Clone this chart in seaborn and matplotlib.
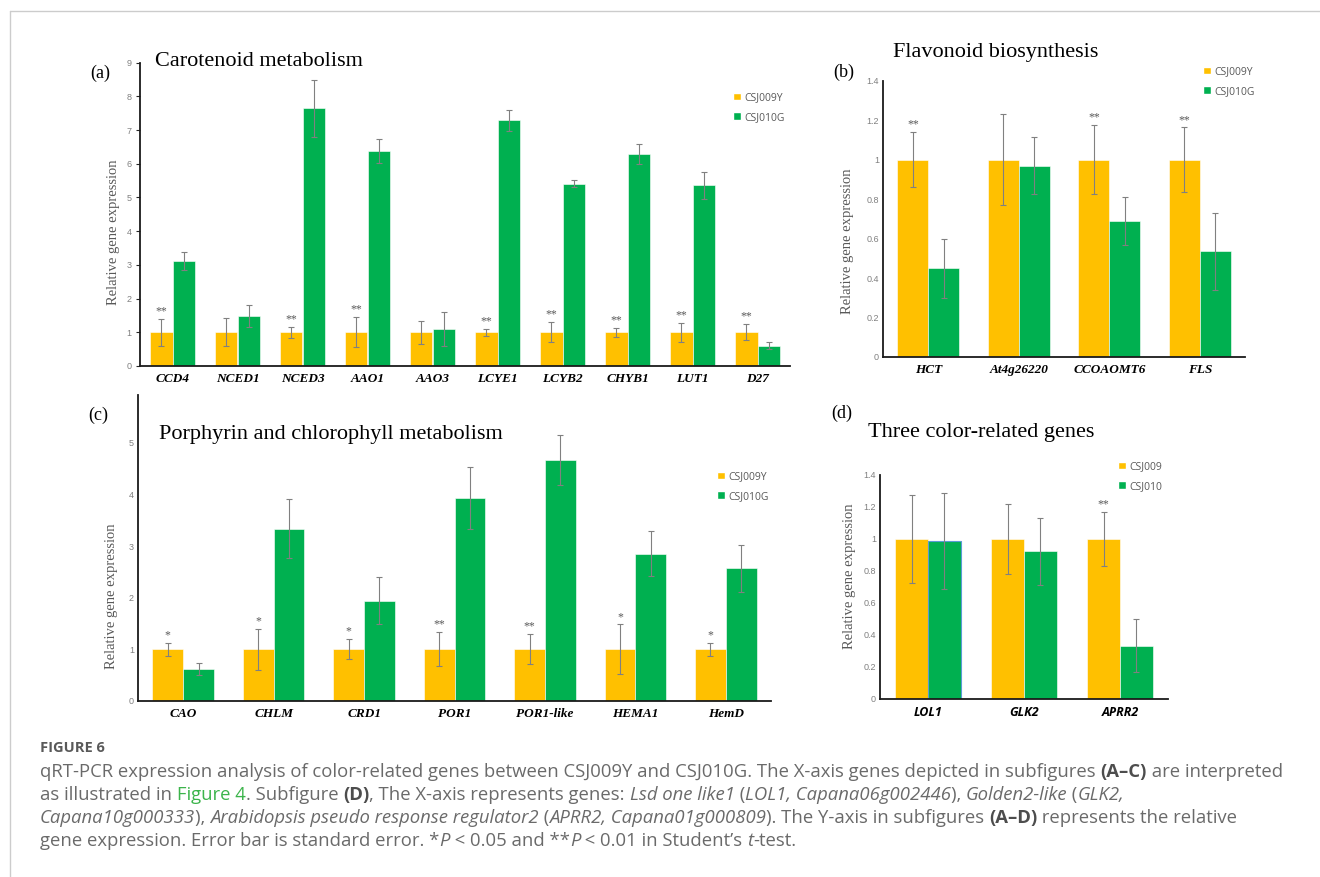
import matplotlib
matplotlib.use("Agg")
import matplotlib.pyplot as plt
import pandas as pd
import seaborn as sns
from matplotlib.lines import Line2D
from matplotlib.patches import Patch

YELLOW = "#FFC000"
GREEN = "#00B050"
GREY = "#595959"

# (a) Carotenoid metabolism
genes_a = ["CCD4", "NCED1", "NCED3", "AAO1", "AAO3", "LCYE1", "LCYB2", "CHYB1", "LUT1", "D27"]
yel_a = [1.0, 1.0, 1.0, 1.0, 1.0, 1.0, 1.0, 1.0, 1.0, 1.0]
grn_a = [3.11, 1.48, 7.65, 6.39, 1.09, 7.29, 5.41, 6.29, 5.36, 0.60]
yel_err_a = [0.40, 0.41, 0.17, 0.45, 0.34, 0.10, 0.30, 0.13, 0.28, 0.24]
grn_err_a = [0.27, 0.33, 0.84, 0.36, 0.50, 0.32, 0.10, 0.30, 0.41, 0.11]
sig_a = ["**", "", "**", "**", "", "**", "**", "**", "**", "**"]

# (b) Flavonoid biosynthesis
genes_b = ["HCT", "At4g26220", "CCOAOMT6", "FLS"]
yel_b = [1.0, 1.0, 1.0, 1.0]
grn_b = [0.45, 0.97, 0.69, 0.535]
yel_err_b = [0.14, 0.23, 0.175, 0.164]
grn_err_b = [0.15, 0.146, 0.12, 0.195]
sig_b = ["**", "", "**", "**"]

# (c) Porphyrin and chlorophyll metabolism
genes_c = ["CAO", "CHLM", "CRD1", "POR1", "POR1-like", "HEMA1", "HemD"]
yel_c = [1.0, 1.0, 1.0, 1.0, 1.0, 1.0, 1.0]
grn_c = [0.615, 3.335, 1.94, 3.94, 4.67, 2.85, 2.565]
yel_err_c = [0.127, 0.40, 0.20, 0.33, 0.29, 0.48, 0.125]
grn_err_c = [0.125, 0.57, 0.46, 0.60, 0.49, 0.44, 0.455]
sig_c = ["*", "*", "*", "**", "**", "*", "*"]

# (d) Three color-related genes
genes_d = ["LOL1", "GLK2", "APRR2"]
yel_d = [1.0, 1.0, 1.0]
grn_d = [0.985, 0.924, 0.334]
yel_err_d = [0.276, 0.216, 0.17]
grn_err_d = [0.30, 0.21, 0.165]
sig_d = ["", "", "**"]

sns.set_theme(style="white")
plt.rcParams["font.family"] = ["Liberation Serif", "DejaVu Serif"]

W, H = 1320, 877
fig = plt.figure(figsize=(W / 100, H / 100), dpi=100)
fig.patch.set_facecolor("white")


def box(left, top, right, bottom):
    # pixel box (from top-left) -> figure fraction rect
    return [left / W, 1 - bottom / H, (right - left) / W, (bottom - top) / H]


def fx(px):
    return px / W


def fy(py):
    return 1 - py / H


def drawPanel(ax, genes, yel, grn, yel_err, grn_err, sig, names, ylim, yticks,
              tick_len=0, xfont="serif"):
    df = pd.DataFrame({
        "gene": genes + genes,
        "value": yel + grn,
        "line": [names[0]] * len(genes) + [names[1]] * len(genes),
    })
    sns.barplot(data=df, x="gene", y="value", hue="line", palette=[YELLOW, GREEN],
                width=0.68, errorbar=None, legend=False, saturation=1,
                edgecolor="white", linewidth=0.4, ax=ax)
    for cont, err in zip(ax.containers, [yel_err, grn_err]):
        xs = [p.get_x() + p.get_width() / 2 for p in cont]
        hs = [p.get_height() for p in cont]
        ax.errorbar(xs, hs, yerr=err, fmt="none", ecolor="#808080",
                    elinewidth=0.8, capsize=2, capthick=0.8)
    for p, e, s in zip(ax.containers[0], yel_err, sig):
        if s:
            ax.annotate(s, (p.get_x() + p.get_width() / 2, p.get_height() + e),
                        xytext=(0, 1), textcoords="offset points", ha="center",
                        va="bottom", fontsize=8.5, color=GREY)
    ax.set_xlim(-0.5, len(genes) - 0.5)
    ax.set_ylim(*ylim)
    ax.set_yticks(yticks)
    ax.set_yticklabels(["%g" % t for t in yticks], fontsize=6.5, color="#808080",
                       family=["Liberation Sans", "DejaVu Sans"])
    if xfont == "serif":
        ax.set_xticklabels(genes, fontsize=9.5, fontweight="bold", fontstyle="italic",
                           family=["Liberation Serif", "DejaVu Serif"])
    else:
        ax.set_xticklabels(genes, fontsize=9, fontweight="bold", fontstyle="italic",
                           family=["Open Sans", "DejaVu Sans"])
    ax.tick_params(axis="x", length=0, pad=5, colors="black")
    ax.tick_params(axis="y", length=tick_len, width=0.8, pad=3, left=tick_len > 0)
    ax.set_xlabel("")
    ax.set_ylabel("")
    sns.despine(ax=ax)
    for side in ["left", "bottom"]:
        ax.spines[side].set_color("#1a1a1a")
        ax.spines[side].set_linewidth(1.3)
    ax.patch.set_alpha(0)


def addLegend(ax, names, left, top):
    handles = [Patch(facecolor=YELLOW), Patch(facecolor=GREEN)]
    ax.legend(handles, names, loc="upper left", bbox_to_anchor=(fx(left), fy(top)),
              bbox_transform=fig.transFigure, frameon=False, borderpad=0,
              borderaxespad=0, handlelength=0.75, handleheight=0.75,
              handletextpad=0.35, labelspacing=0.85, labelcolor=GREY,
              prop={"family": ["Open Sans", "DejaVu Sans"], "size": 7.5})


ax_a = fig.add_axes(box(140, 62.7, 790, 366))
drawPanel(ax_a, genes_a, yel_a, grn_a, yel_err_a, grn_err_a, sig_a,
          ["CSJ009Y", "CSJ010G"], (0, 9), range(0, 10), tick_len=3)
addLegend(ax_a, ["CSJ009Y", "CSJ010G"], 733, 92)

ax_b = fig.add_axes(box(883, 80.7, 1245, 357))
drawPanel(ax_b, genes_b, yel_b, grn_b, yel_err_b, grn_err_b, sig_b,
          ["CSJ009Y", "CSJ010G"], (0, 1.4), [0, 0.2, 0.4, 0.6, 0.8, 1, 1.2, 1.4])
addLegend(ax_b, ["CSJ009Y", "CSJ010G"], 1203, 66)

ax_c = fig.add_axes(box(138, 395, 771, 700.7))
drawPanel(ax_c, genes_c, yel_c, grn_c, yel_err_c, grn_err_c, sig_c,
          ["CSJ009Y", "CSJ010G"], (0, 5.93), range(0, 6))
addLegend(ax_c, ["CSJ009Y", "CSJ010G"], 717, 471)

ax_d = fig.add_axes(box(880, 475, 1168, 699))
drawPanel(ax_d, genes_d, yel_d, grn_d, yel_err_d, grn_err_d, sig_d,
          ["CSJ009", "CSJ010"], (0, 1.4), [0, 0.2, 0.4, 0.6, 0.8, 1, 1.2, 1.4],
          xfont="sans")
addLegend(ax_d, ["CSJ009", "CSJ010"], 1118, 461)
ax_d.containers[1][0].set_edgecolor("#5B9BD5")
ax_d.containers[1][0].set_linewidth(0.8)

# panel letters, titles, y labels
for txt, x, y in [("(a)", 90, 73), ("(b)", 833, 72), ("(c)", 88, 415), ("(d)", 831, 413)]:
    fig.text(fx(x), fy(y), txt, fontsize=13, ha="left", va="center", color="black")
for txt, x, y in [("Carotenoid metabolism", 155, 62), ("Flavonoid biosynthesis", 893, 53),
                  ("Porphyrin and chlorophyll metabolism", 159, 434),
                  ("Three color-related genes", 868, 433)]:
    fig.text(fx(x), fy(y), txt, fontsize=16, ha="left", va="center", color="black")
for x, y in [(113, 232), (848, 241), (112, 596), (849, 576)]:
    fig.text(fx(x), fy(y), "Relative gene expression", fontsize=10.5, rotation=90,
             ha="center", va="center", color=GREY)

# page frame lines
fig.add_artist(Line2D([fx(9.5), 1], [fy(11), fy(11)], color="#cccccc", lw=1))
fig.add_artist(Line2D([fx(9.5), fx(9.5)], [fy(11), 0], color="#cccccc", lw=1))

# caption
CAP = "#6a6a6a"
fig.text(fx(40), fy(748), "FIGURE 6", fontsize=10.5, fontweight="bold", color=GREY,
         family=["Open Sans", "DejaVu Sans"], va="center")

caption = [
    [("qRT-PCR expression analysis of color-related genes between CSJ009Y and CSJ010G. "
      "The X-axis genes depicted in subfigures ", "n"), ("(A\u2013C)", "b"),
     (" are interpreted", "n")],
    [("as illustrated in ", "n"), ("Figure 4", "g"), (". Subfigure ", "n"), ("(D)", "b"),
     (", The X-axis represents genes: ", "n"), ("Lsd one like1", "i"), (" (", "n"),
     ("LOL1, Capana06g002446", "i"), ("), ", "n"), ("Golden2-like", "i"), (" (", "n"),
     ("GLK2,", "i")],
    [("Capana10g000333", "i"), ("), ", "n"), ("Arabidopsis pseudo response regulator2", "i"),
     (" (", "n"), ("APRR2, Capana01g000809", "i"),
     ("). The Y-axis in subfigures ", "n"), ("(A\u2013D)", "b"),
     (" represents the relative", "n")],
    [("gene expression. Error bar is standard error. *", "n"), ("P", "i"),
     (" < 0.05 and **", "n"), ("P", "i"), (" < 0.01 in Student\u2019s ", "n"), ("t", "i"),
     ("-test.", "n")],
]
renderer = fig.canvas.get_renderer()
for line, ypx in zip(caption, [772, 795, 818, 841]):
    x = fx(40)
    for txt, st in line:
        kw = dict(fontsize=13.3, color=CAP, family=["Open Sans", "DejaVu Sans"], va="center")
        if st == "b":
            kw["fontweight"] = "bold"
            kw["color"] = "#4d4d4d"
        elif st == "i":
            kw["fontstyle"] = "italic"
        elif st == "g":
            kw["color"] = "#3cb44b"
        t = fig.text(x, fy(ypx), txt, **kw)
        x += t.get_window_extent(renderer).width / W

fig.savefig("out.png", dpi=100)
